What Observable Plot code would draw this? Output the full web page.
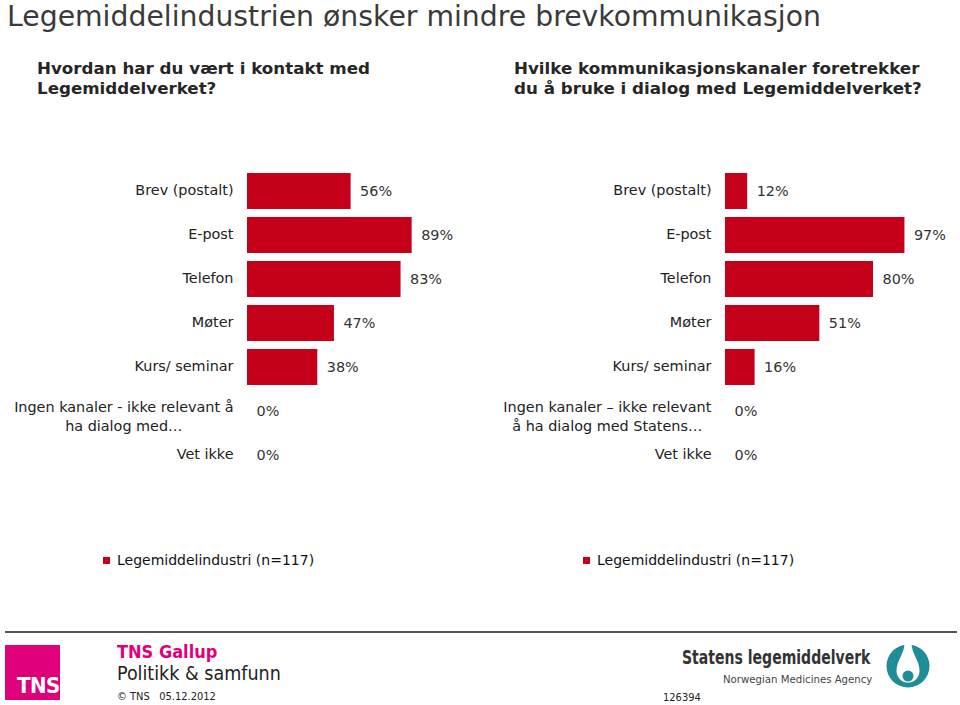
<!DOCTYPE html>
<html>
<head>
<meta charset="utf-8">
<script src="https://cdn.jsdelivr.net/npm/d3@7"></script>
<script src="https://cdn.jsdelivr.net/npm/@observablehq/plot@0.6"></script>
<style>
  html, body { margin: 0; padding: 0; background: #fff; }
  #page { position: relative; width: 960px; height: 705px; overflow: hidden; font-family: "DejaVu Sans", Verdana, sans-serif; color: #222; }
  .abs { position: absolute; white-space: nowrap; }
  #title { left: 7px; top: 0px; font-size: 28.3px; line-height: 34px; color: #3a3a3a; }
  .sub { font-family: "DejaVu Sans", sans-serif; font-weight: bold; font-size: 16.7px; line-height: 20px; color: #262626; }
  .legend { font-size: 14px; color: #111; }
  .legend span.sw { display: inline-block; width: 7px; height: 7px; background: #c4001a; margin-right: 7px; vertical-align: 1px; }
</style>
</head>
<body>
<div id="page">
  <div id="title" class="abs">Legemiddelindustrien ønsker mindre brevkommunikasjon</div>
  <div class="abs sub" style="left:37px; top:58px;">Hvordan har du vært i kontakt med<br>Legemiddelverket?</div>
  <div class="abs sub" style="left:514px; top:58px;">Hvilke kommunikasjonskanaler foretrekker<br>du å bruke i dialog med Legemiddelverket?</div>
  <div id="left" class="abs" style="left:0px; top:148px;"></div>
  <div id="right" class="abs" style="left:480px; top:148px;"></div>
  <div id="legL" class="abs legend" style="left:103px; top:552px;"></div>
  <div id="legR" class="abs legend" style="left:583px; top:552px;"></div>

  <div class="abs" style="left:5px; top:631px; width:952px; height:2px; background:#555;"></div>
  <div class="abs" style="left:5px; top:645px; width:55px; height:55px; background:#e0007a;">
    <div class="abs" style="left:12px; top:29px; font-family:'DejaVu Sans Condensed'; font-weight:bold; font-size:22px; line-height:24px; color:#fff; letter-spacing:-0.5px;">TNS</div>
  </div>
  <div class="abs" style="left:117px; top:641px; font-family:'DejaVu Sans Condensed'; font-weight:bold; font-size:18px; color:#e0007a;">TNS Gallup</div>
  <div class="abs" style="left:117px; top:662px; font-family:'DejaVu Sans Condensed'; font-size:19.5px; color:#222;">Politikk &amp; samfunn</div>
  <div class="abs" style="left:117px; top:690px; font-family:'DejaVu Sans Condensed'; font-size:11px; color:#222;">© TNS&nbsp;&nbsp;&nbsp;05.12.2012</div>
  <div class="abs" style="left:663px; top:691px; font-family:'DejaVu Sans Condensed'; font-size:11px; color:#222;">126394</div>
  <div class="abs" style="left:682px; top:646px; font-family:'DejaVu Sans Condensed'; font-weight:bold; font-size:19.5px; color:#333; transform:scaleX(0.8); transform-origin:0 0;">Statens legemiddelverk</div>
  <div class="abs" style="left:723px; top:673px; font-family:'DejaVu Sans Condensed'; font-size:11.3px; color:#444;">Norwegian Medicines Agency</div>
  <svg class="abs" style="left:883px; top:641px;" width="50" height="50" viewBox="0 0 50 50">
    <circle cx="25" cy="25" r="21.5" fill="#1f8d97"/>
    <path d="M21.5 2 L28.5 2 C28.5 13 36.5 19 36.5 30 A11.5 11.5 0 0 1 13.5 30 C13.5 19 21.5 13 21.5 2 Z" fill="#fff"/>
    <circle cx="25" cy="35" r="5.5" fill="#1f8d97"/>
  </svg>
</div>
<script>
const categoriesLeft = ["Brev (postalt)", "E-post", "Telefon", "Møter", "Kurs/ seminar", "Ingen kanaler - ikke relevant å\nha dialog med…", "Vet ikke"];
const valuesLeft = [56, 89, 83, 47, 38, 0, 0];
const categoriesRight = ["Brev (postalt)", "E-post", "Telefon", "Møter", "Kurs/ seminar", "Ingen kanaler – ikke relevant\nå ha dialog med Statens…", "Vet ikke"];
const valuesRight = [12, 97, 80, 51, 16, 0, 0];
const seriesName = "Legemiddelindustri (n=117)";
const barColor = "#c4001a";

function panel(cats, vals, marginLeft, marginRight) {
  const data = cats.map((c, i) => ({cat: c, value: vals[i]}));
  return Plot.plot({
    width: 480,
    height: 347,
    marginTop: 14,
    marginBottom: 10,
    marginLeft,
    marginRight,
    style: {fontFamily: "DejaVu Sans, Verdana, sans-serif", fontSize: "14.4px", color: "#222", background: "transparent"},
    x: {domain: [0, 100], axis: null},
    y: {domain: cats, padding: 0.18, label: null},
    marks: [
      Plot.barX(data, {x: "value", y: "cat", fill: barColor}),
      Plot.axisY({tickSize: 0, tickPadding: 14, dy: -2, fontSize: 14.4, lineHeight: 1.28, label: null, fill: "#222"}),
      Plot.text(data, {x: "value", y: "cat", text: d => `${d.value}%`, textAnchor: "start", dx: 9, fontSize: 14.4, fill: "#333"})
    ]
  });
}

function centerMultiline(svg) {
  svg.querySelectorAll('g[aria-label="y-axis tick label"] text').forEach(t => {
    if (t.querySelectorAll("tspan").length > 1) {
      const w = t.getBBox().width;
      t.setAttribute("text-anchor", "middle");
      const tr = t.getAttribute("transform") || "";
      t.setAttribute("transform", tr + ` translate(${-w / 2},6)`);
    }
  });
}

const l = panel(categoriesLeft, valuesLeft, 247, 48);
document.getElementById("left").appendChild(l);
centerMultiline(l);
const r = panel(categoriesRight, valuesRight, 245, 50);
document.getElementById("right").appendChild(r);
centerMultiline(r);

for (const id of ["legL", "legR"]) {
  const el = document.getElementById(id);
  el.innerHTML = `<span class="sw"></span>${seriesName}`;
}
</script>
</body>
</html>
